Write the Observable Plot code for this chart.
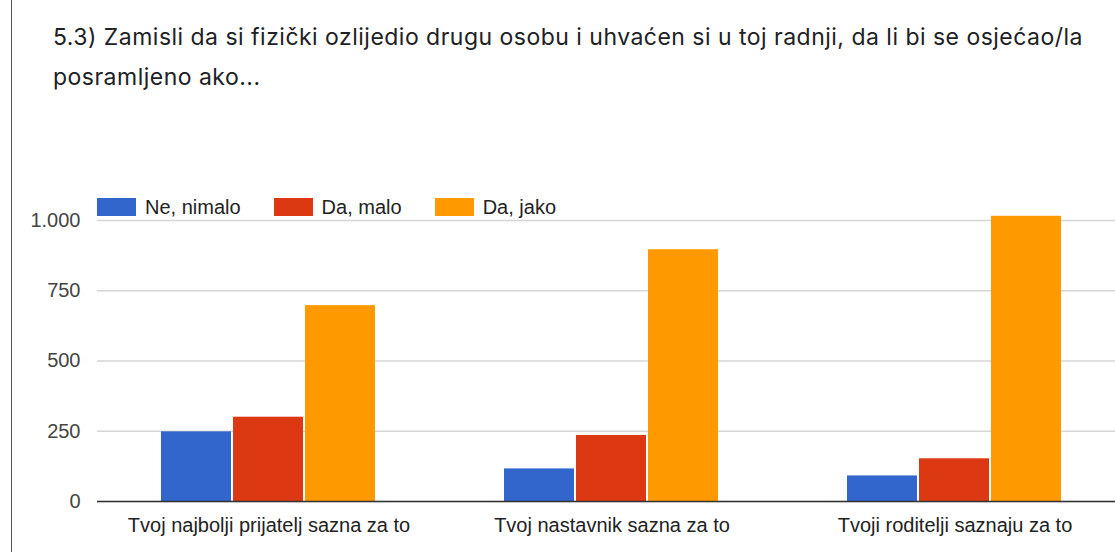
<!DOCTYPE html>
<html>
<head>
<meta charset="utf-8">
<script src="https://cdn.jsdelivr.net/npm/d3@7"></script>
<script src="https://cdn.jsdelivr.net/npm/@observablehq/plot@0.6"></script>
<style>
  html, body { margin: 0; padding: 0; background: #fff; }
  body { width: 1115px; height: 552px; overflow: hidden; position: relative; }
  #frame { position: absolute; left: 11px; top: 0; width: 1px; height: 552px; background: #555; }
  .tline { position: absolute; left: 53px; white-space: nowrap; font-family: Inter, "Open Sans", sans-serif; font-size: 23px; line-height: 40px; color: #202124; }
  #chart { position: absolute; left: 0; top: 140px; }
  #chart svg { max-width: none !important; }
  #legend { position: absolute; left: 97px; top: 198px; display: flex; font-family: "Liberation Sans", Arial, sans-serif; font-size: 20px; color: #222; }
  #legend .item { display: flex; align-items: center; height: 18px; }
  #legend .sw { width: 39px; height: 18px; margin-right: 9px; }
</style>
</head>
<body>
<div id="frame"></div>
<div id="t1" class="tline" style="top:17px">5.3) Zamisli da si fizički ozlijedio drugu osobu i uhvaćen si u toj radnji, da li bi se osjećao/la</div>
<div id="t2" class="tline" style="top:57px">posramljeno ako...</div>
<div id="legend"></div>
<div id="chart"></div>
<script>
const groups = ["Tvoj najbolji prijatelj sazna za to", "Tvoj nastavnik sazna za to", "Tvoji roditelji saznaju za to"];
const answers = ["Ne, nimalo", "Da, malo", "Da, jako"];
const colors = ["#3366cc", "#dc3912", "#ff9900"];
const neNimalo = [248, 116, 91];
const daMalo = [300, 235, 152];
const daJako = [697, 896, 1015];
const yTicks = [0, 250, 500, 750, 1000];

const series = [neNimalo, daMalo, daJako];
const data = [];
groups.forEach((g, i) => answers.forEach((a, j) => data.push({group: g, answer: a, value: series[j][i]})));

// fit title letter spacing to reference line width
const t1 = document.getElementById("t1"), t2 = document.getElementById("t2");
const w = t1.getBoundingClientRect().width;
const n = t1.textContent.length;
const ls = (1030 - w) / n;
t1.style.letterSpacing = ls + "px";
t2.style.letterSpacing = ls + "px";

// legend
const legend = document.getElementById("legend");
answers.forEach((a, j) => {
  const it = document.createElement("div");
  it.className = "item";
  it.style.marginRight = (j < answers.length - 1 ? 33 : 0) + "px";
  it.innerHTML = `<div class="sw" style="background:${colors[j]}"></div><span>${a}</span>`;
  legend.appendChild(it);
});

const fmt = d => d3.format(",")(d).replace(/,/g, ".");

const chart = Plot.plot({
  width: 1126,
  height: 412,
  marginLeft: 97,
  marginRight: 0,
  marginTop: 80,
  marginBottom: 51,
  style: {fontFamily: "'Liberation Sans', Arial, sans-serif", fontSize: "20px", color: "#222", background: "transparent", overflow: "visible"},
  fx: {domain: groups, padding: 0, axis: "bottom", label: null, tickSize: 0, tickPadding: 16},
  x: {domain: answers, paddingInner: 0.0276, paddingOuter: 0.879, axis: null},
  y: {domain: [0, 1000], axis: null},
  color: {domain: answers, range: colors},
  marks: [
    Plot.gridY(yTicks, {stroke: "#d6d6d6", strokeOpacity: 1, strokeWidth: 1.3}),
    Plot.axisY(yTicks, {tickSize: 0, tickPadding: 17, tickFormat: fmt, label: null, fill: "#444", facetAnchor: "left"}),
    Plot.barY(data, {fx: "group", x: "answer", y: "value", fill: "answer"}),
    Plot.ruleY([0], {stroke: "#333", strokeWidth: 1.3})
  ]
});
document.getElementById("chart").appendChild(chart);
</script>
</body>
</html>
